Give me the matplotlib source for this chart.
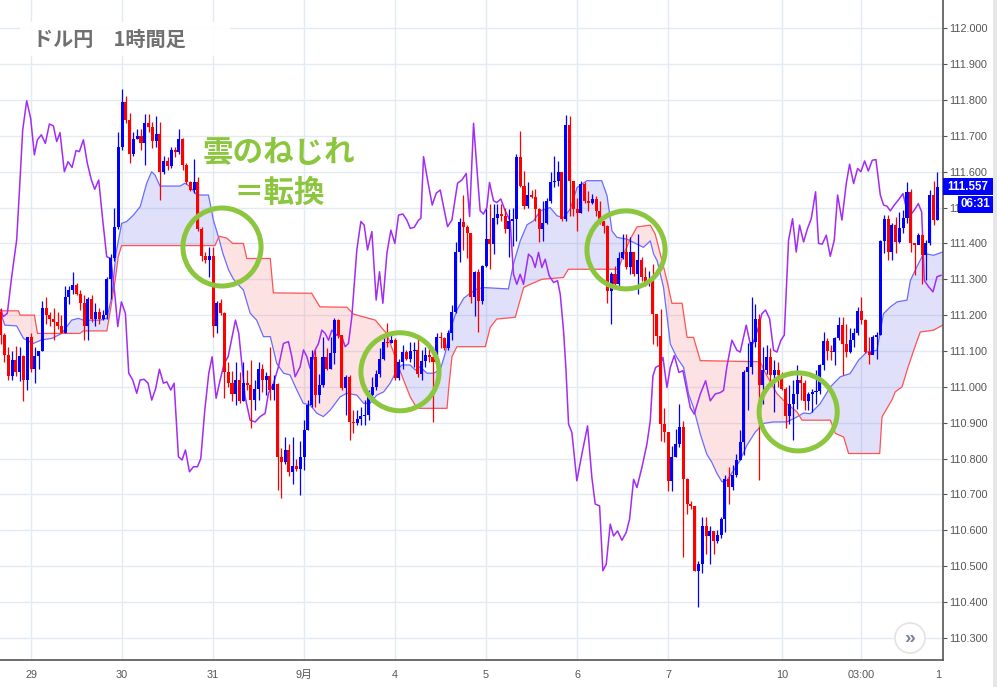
import numpy as np
import matplotlib
matplotlib.use('Agg')
import matplotlib.pyplot as plt
from matplotlib.patches import Ellipse, Rectangle, FancyBboxPatch

plt.rcParams['font.family'] = ['Liberation Sans', 'Noto Sans CJK JP']

# hourly candles (open = previous close)
first_open = 111.21
close = [
    111.145, 111.09, 111.03, 111.075, 111.04, 111.085, 111.02, 111.14, 111.05, 111.085,
    111.10, 111.22, 111.20, 111.19, 111.18, 111.17, 111.15, 111.25, 111.27, 111.285,
    111.26, 111.235, 111.17, 111.245, 111.19, 111.21, 111.19, 111.20, 111.30, 111.36,
    111.445, 111.67, 111.795, 111.745, 111.65, 111.69, 111.70, 111.68, 111.735, 111.725,
    111.685, 111.705, 111.60, 111.63, 111.615, 111.66, 111.655, 111.69, 111.62, 111.57,
    111.55, 111.57, 111.44, 111.365, 111.355, 111.365, 111.17, 111.235, 111.205, 111.04,
    111.01, 110.98, 111.02, 110.96, 111.01, 111.005, 110.963, 110.993, 111.05, 111.019,
    111.03, 110.991, 111.008, 110.805, 110.79, 110.823, 110.763, 110.779, 110.77, 110.805,
    110.879, 110.95, 111.084, 110.977, 111.005, 111.084, 111.05, 111.093, 111.186, 111.145,
    110.996, 111.028, 110.903, 110.898, 110.909, 110.918, 110.921, 110.977, 111.0, 111.037,
    111.079, 111.126, 111.121, 111.13, 111.024, 111.07, 111.098, 111.077, 111.101, 111.103,
    111.037, 111.073, 111.089, 111.084, 111.07, 111.14, 111.135, 111.107, 111.149, 111.21,
    111.377, 111.46, 111.447, 111.43, 111.25, 111.319, 111.24, 111.338, 111.412, 111.398,
    111.472, 111.482, 111.477, 111.44, 111.463, 111.468, 111.64, 111.561, 111.505, 111.535,
    111.53, 111.496, 111.44, 111.458, 111.519, 111.57, 111.575, 111.60, 111.468, 111.731,
    111.575, 111.496, 111.486, 111.567, 111.519, 111.514, 111.524, 111.491, 111.463, 111.449,
    111.268, 111.314, 111.286, 111.359, 111.375, 111.333, 111.375, 111.314, 111.353, 111.305,
    111.29, 111.296, 111.203, 111.142, 110.896, 110.873, 110.738, 110.803, 110.84, 110.887,
    110.742, 110.673, 110.668, 110.487, 110.505, 110.612, 110.584, 110.598, 110.57, 110.586,
    110.632, 110.744, 110.721, 110.753, 110.797, 110.846, 111.042, 111.056, 111.125, 111.188,
    111.004, 111.046, 111.082, 111.032, 111.046, 111.032, 110.995, 110.918, 110.951, 110.981,
    111.02, 111.011, 110.961, 110.979, 110.985, 110.989, 111.06, 111.127, 111.10, 111.097,
    111.135, 111.172, 111.119, 111.097, 111.13, 111.15, 111.211, 111.186, 111.097, 111.09,
    111.139, 111.144, 111.407, 111.468, 111.376, 111.451, 111.404, 111.442, 111.47, 111.544,
    111.40, 111.395, 111.423, 111.367, 111.40, 111.535, 111.465, 111.557]
high = [
    111.22, 111.15, 111.11, 111.10, 111.115, 111.11, 111.09, 111.14, 111.15, 111.11,
    111.10, 111.24, 111.25, 111.21, 111.22, 111.21, 111.20, 111.28, 111.28, 111.32,
    111.29, 111.27, 111.255, 111.25, 111.255, 111.235, 111.22, 111.215, 111.305, 111.37,
    111.50, 111.71, 111.83, 111.81, 111.765, 111.71, 111.72, 111.72, 111.76, 111.76,
    111.74, 111.755, 111.74, 111.645, 111.64, 111.67, 111.67, 111.72, 111.695, 111.625,
    111.575, 111.635, 111.585, 111.445, 111.375, 111.39, 111.39, 111.24, 111.245, 111.21,
    111.07, 111.045, 111.07, 111.04, 111.07, 111.047, 111.075, 111.02, 111.07, 111.065,
    111.042, 111.112, 111.033, 111.01, 110.83, 110.861, 110.84, 110.861, 110.80, 110.85,
    110.908, 110.963, 111.103, 111.103, 111.037, 111.14, 111.107, 111.14, 111.191, 111.19,
    111.145, 111.033, 111.033, 110.935, 110.935, 110.944, 110.963, 110.991, 111.028, 111.047,
    111.107, 111.144, 111.177, 111.154, 111.135, 111.079, 111.117, 111.103, 111.126, 111.126,
    111.135, 111.103, 111.112, 111.107, 111.112, 111.149, 111.154, 111.14, 111.158, 111.228,
    111.405, 111.47, 111.535, 111.45, 111.43, 111.324, 111.328, 111.34, 111.496, 111.51,
    111.51, 111.51, 111.51, 111.50, 111.496, 111.50, 111.65, 111.714, 111.603, 111.57,
    111.548, 111.551, 111.50, 111.519, 111.528, 111.598, 111.645, 111.63, 111.60, 111.759,
    111.756, 111.575, 111.528, 111.575, 111.57, 111.547, 111.538, 111.533, 111.519, 111.463,
    111.452, 111.319, 111.338, 111.375, 111.426, 111.426, 111.417, 111.375, 111.426, 111.361,
    111.333, 111.324, 111.342, 111.2, 111.217, 110.942, 110.873, 110.835, 110.882, 110.952,
    110.905, 110.747, 110.682, 110.668, 110.515, 110.636, 110.636, 110.612, 110.598, 110.60,
    110.637, 110.753, 110.777, 110.781, 110.814, 110.879, 111.046, 111.121, 111.251, 111.232,
    111.204, 111.111, 111.116, 111.107, 111.074, 111.07, 111.04, 111.0, 111.004, 111.018,
    111.06, 111.032, 111.02, 110.986, 110.995, 111.046, 111.065, 111.153, 111.135, 111.116,
    111.139, 111.195, 111.195, 111.176, 111.163, 111.163, 111.223, 111.251, 111.19, 111.139,
    111.144, 111.153, 111.409, 111.479, 111.479, 111.456, 111.474, 111.488, 111.493, 111.572,
    111.553, 111.40, 111.43, 111.427, 111.409, 111.549, 111.575, 111.60]
low = [
    111.12, 111.07, 111.02, 111.02, 111.03, 111.015, 110.96, 110.99, 111.04, 111.01,
    111.05, 111.10, 111.175, 111.17, 111.13, 111.16, 111.15, 111.15, 111.23, 111.26,
    111.255, 111.215, 111.13, 111.13, 111.18, 111.17, 111.175, 111.185, 111.19, 111.245,
    111.35, 111.44, 111.66, 111.735, 111.625, 111.645, 111.69, 111.66, 111.62, 111.71,
    111.665, 111.67, 111.52, 111.595, 111.605, 111.61, 111.64, 111.65, 111.605, 111.565,
    111.545, 111.54, 111.435, 111.35, 111.345, 111.305, 111.14, 111.15, 111.20, 110.97,
    111.00, 110.96, 110.95, 110.955, 110.96, 110.99, 110.884, 110.935, 110.963, 110.986,
    110.977, 110.963, 110.963, 110.712, 110.69, 110.786, 110.75, 110.73, 110.765, 110.698,
    110.768, 110.879, 110.945, 110.945, 110.954, 111.0, 111.047, 111.05, 111.065, 111.135,
    110.991, 110.921, 110.851, 110.87, 110.893, 110.893, 110.893, 110.907, 110.958, 110.991,
    111.028, 111.075, 111.112, 111.121, 111.019, 111.019, 111.051, 111.075, 111.07, 111.056,
    111.028, 111.019, 111.056, 111.07, 110.903, 111.009, 111.107, 111.103, 111.103, 111.131,
    111.205, 111.349, 111.382, 111.36, 111.233, 111.198, 111.152, 111.232, 111.333, 111.328,
    111.37, 111.454, 111.463, 111.43, 111.361, 111.393, 111.407, 111.556, 111.496, 111.50,
    111.528, 111.463, 111.403, 111.407, 111.454, 111.514, 111.556, 111.561, 111.463, 111.463,
    111.477, 111.477, 111.435, 111.486, 111.514, 111.49, 111.51, 111.477, 111.454, 111.43,
    111.235, 111.175, 111.282, 111.282, 111.356, 111.328, 111.314, 111.31, 111.259, 111.296,
    111.28, 111.282, 111.119, 111.114, 110.849, 110.845, 110.71, 110.71, 110.803, 110.831,
    110.524, 110.645, 110.659, 110.487, 110.385, 110.482, 110.533, 110.505, 110.533, 110.565,
    110.577, 110.595, 110.674, 110.712, 110.749, 110.795, 110.809, 110.935, 111.037, 111.111,
    110.739, 110.953, 111.037, 111.004, 110.93, 111.0, 110.99, 110.884, 110.897, 110.851,
    110.939, 110.963, 110.935, 110.935, 110.93, 110.953, 110.981, 111.046, 111.074, 111.074,
    111.06, 111.13, 111.032, 111.084, 111.093, 111.111, 111.144, 111.176, 111.093, 111.065,
    111.093, 111.079, 111.144, 111.372, 111.353, 111.353, 111.372, 111.40, 111.428, 111.456,
    111.376, 111.311, 111.40, 111.288, 111.297, 111.395, 111.451, 111.465]

# ichimoku cloud: leading span A (blue) and span B (red), sampled by candle number
span_a_x = [0, 1.1, 4.2, 6.0, 8.6, 10.8, 13.5, 16.1, 18.7, 20.5, 21.8, 26.2, 28.0, 29.3, 30.4,
            31.9, 33.2, 35.0, 36.8, 38.5, 39.8, 40.7, 42.0, 47.3, 48.6, 50.0, 51.7, 54.8, 56.1,
            57.4, 58.6, 60.1, 61.4, 63.1, 64.0, 65.8, 67.5, 69.3, 71.1, 72.8, 74.6, 76.3, 78.1,
            79.8, 81.6, 83.4, 85.1, 86.9, 89.5, 91.3, 93.9, 95.7, 97.4, 99.2, 101.0, 102.7,
            104.5, 105.8, 108.0, 109.3, 110.6, 112.4, 114.1, 115.9, 117.2, 118.5, 120.3, 122.1,
            123.8, 125.6, 127.3, 133.9, 135.2, 137.0, 138.8, 140.5, 142.3, 144.9, 146.7, 148.4,
            150.2, 152.0, 154.6, 158.5, 159.9, 161.2, 162.5, 165.1, 167.8, 169.5, 171.3, 172.2,
            173.1, 174.8, 176.6, 178.3, 180.1, 181.4, 182.7, 184.5, 186.2, 187.5, 188.9, 190.2,
            191.5, 193.3, 195.0, 196.8, 199.0, 201.2, 203.8, 207.3, 210.0, 211.7, 213.5, 216.1,
            218.8, 221.4, 224.0, 226.2, 228.4, 231.1, 232.8, 234.6, 236.4, 239.0, 239.9, 241.6,
            243.4, 246.0, 248.4]
span_a = [111.205, 111.172, 111.17, 111.135, 111.121, 111.131, 111.135, 111.149, 111.186, 111.191,
          111.186, 111.186, 111.191, 111.251, 111.372, 111.456, 111.461, 111.479, 111.503, 111.568,
          111.60, 111.591, 111.56, 111.56, 111.568, 111.558, 111.535, 111.535, 111.465, 111.419,
          111.372, 111.326, 111.30, 111.28, 111.27, 111.205, 111.186, 111.14, 111.14, 111.065,
          111.038, 111.033, 110.991, 110.954, 110.949, 110.926, 110.917, 110.935, 110.972, 110.982,
          110.977, 110.954, 110.954, 110.977, 110.986, 111.01, 111.047, 111.061, 111.061, 111.047,
          111.056, 111.038, 111.038, 111.047, 111.093, 111.158, 111.214, 111.247, 111.261, 111.273,
          111.277, 111.273, 111.342, 111.407, 111.452, 111.463, 111.491, 111.50, 111.477, 111.472,
          111.496, 111.556, 111.575, 111.575, 111.533, 111.435, 111.417, 111.412, 111.398, 111.389,
          111.407, 111.37, 111.352, 111.277, 111.119, 111.082, 111.054, 110.98, 110.942, 110.868,
          110.812, 110.79, 110.758, 110.735, 110.739, 110.767, 110.795, 110.837, 110.874, 110.898,
          110.902, 110.902, 110.916, 110.927, 110.925, 110.953, 111.0, 111.028, 111.037, 111.074,
          111.097, 111.102, 111.204, 111.223, 111.237, 111.242, 111.297, 111.335, 111.372, 111.367,
          111.376]
span_b_x = [0, 4.7, 5.1, 8.9, 9.7, 20.9, 21.8, 28.0, 28.8, 30.2, 31.0, 31.9, 56.5, 57.6, 59.6,
            61.2, 64.0, 64.9, 71.1, 71.9, 82.0, 84.2, 91.3, 93.0, 98.8, 101.0, 101.8, 105.4,
            108.0, 109.8, 117.7, 118.1, 119.0, 120.3, 127.8, 129.1, 130.8, 135.7, 137.9, 138.8,
            142.7, 148.4, 149.7, 162.9, 164.3, 166.0, 167.8, 171.3, 172.6, 174.4, 175.7, 177.0,
            179.7, 181.0, 182.7, 184.5, 200.3, 201.6, 204.7, 207.3, 210.0, 211.3, 218.8, 220.1,
            222.3, 223.6, 231.8, 232.4, 235.0, 235.9, 237.7, 239.0, 240.7, 242.5, 246.0, 248.4]
span_b = [111.212, 111.212, 111.20, 111.20, 111.149, 111.149, 111.156, 111.156, 111.205, 111.298,
          111.363, 111.394, 111.394, 111.42, 111.415, 111.40, 111.40, 111.358, 111.358, 111.262,
          111.261, 111.223, 111.222, 111.203, 111.186, 111.158, 111.149, 111.042, 110.972, 110.94,
          110.94, 110.991, 111.084, 111.112, 111.112, 111.166, 111.189, 111.194, 111.277, 111.282,
          111.30, 111.305, 111.328, 111.328, 111.37, 111.412, 111.446, 111.451, 111.426, 111.352,
          111.296, 111.233, 111.233, 111.138, 111.138, 111.073, 111.07, 111.04, 110.981, 110.953,
          110.93, 110.907, 110.907, 110.87, 110.86, 110.814, 110.814, 110.916, 110.963, 110.986,
          111.0, 111.046, 111.10, 111.153, 111.158, 111.172]

# purple line
lag_x = [0, 0.70, 1.75, 2.90, 4.22, 5.10, 5.80, 6.86, 7.91, 8.88, 9.67, 10.73, 11.78, 12.84,
         13.89, 14.77, 15.65, 16.79, 17.76, 18.82, 19.87, 20.75, 21.81, 22.86, 23.92, 24.80,
         25.85, 26.91, 27.96, 29.02, 30.07, 30.87, 31.83, 32.89, 33.77, 34.82, 35.88, 36.76,
         37.81, 38.87, 39.84, 40.89, 41.86, 42.92, 43.80, 44.85, 45.73, 46.87, 47.84, 48.72,
         49.78, 50.83, 51.89, 52.77, 53.82, 54.88, 55.76, 56.81, 57.87, 58.92, 59.98, 60.86,
         61.91, 62.79,
         64.46, 65.78, 67.10, 68.42, 69.73, 70.61, 71.93, 73.25, 74.57, 75.89, 76.77, 77.65,
         78.97, 79.85, 80.73, 81.61, 82.93, 83.81, 84.69, 85.57, 86.45, 87.32, 88.64, 89.96,
         90.84, 91.72, 92.60, 93.92, 94.98, 95.86, 96.74, 97.88, 99.02, 99.90, 100.78, 101.84,
         102.89, 103.95, 104.92, 106.06, 107.11, 107.99, 109.05, 110.19, 110.81, 111.51, 112.57,
         113.80, 114.85, 115.91, 116.96, 117.84, 118.99, 120.48, 121.63, 122.77, 123.65, 124.70,
         125.56, 126.44, 127.32, 128.20, 128.90, 129.96, 130.84, 131.89, 133.03, 134.35, 135.23,
         136.11, 136.99, 137.87, 139.19, 140.07, 140.95, 141.83, 142.71, 143.59, 144.64, 145.79,
         146.84, 147.55, 148.43, 149.04, 149.75, 150.62, 151.94, 153.26, 154.76, 155.90, 156.78,
         157.93, 158.80, 159.68, 160.74, 161.62, 162.67, 163.82, 164.96, 165.84, 166.90, 167.78,
         169.09, 170.41, 171.29, 172.00, 172.70, 173.76, 174.64, 175.69, 176.57, 177.63, 178.86,
         179.91, 180.97, 181.85, 182.90, 184.49, 185.89, 187.12, 188.44, 189.76, 190.62, 191.50,
         192.82, 194.14, 195.02, 196.60, 197.83, 198.71, 199.85, 200.73, 201.70, 202.76, 203.81,
         204.69, 205.75, 206.63, 207.77, 208.82, 209.79, 210.67, 211.73, 212.78, 213.75, 214.89,
         215.68, 216.65, 217.71, 218.76, 219.82, 220.70, 221.84, 222.98, 223.86, 224.92, 225.97,
         226.85, 227.82, 228.79, 229.84, 230.81, 231.96, 232.83, 233.71, 234.59, 235.65, 236.79,
         237.94, 238.99, 239.87, 240.93, 241.98, 242.86, 243.56, 244.71, 245.85, 246.91, 247.96]
lag = [111.214, 111.196, 111.205, 111.307, 111.41, 111.577, 111.716, 111.798, 111.749, 111.647,
       111.689, 111.703, 111.679, 111.733, 111.728, 111.684, 111.709, 111.60, 111.628, 111.612,
       111.659, 111.656, 111.689, 111.623, 111.577, 111.551, 111.577, 111.465, 111.363, 111.358,
       111.261, 111.168, 111.237, 111.205, 111.038, 111.019, 110.982, 111.019, 111.021, 111.01,
       110.963, 110.996, 111.049, 111.01, 111.014, 110.991, 111.01, 110.805, 110.796, 110.824,
       110.763, 110.777, 110.777, 110.80, 110.935, 111.038, 111.084, 110.968, 111.019, 111.065,
       111.084, 111.131, 111.186, 111.149,
       110.972, 110.907, 110.902, 110.917, 110.926, 110.982, 111.009, 111.056, 111.121, 111.126,
       111.084, 111.028, 111.056, 111.103, 111.084, 111.051, 111.103, 111.121, 111.158, 111.149,
       111.13, 111.158, 111.144, 111.14, 111.112, 111.121, 111.196, 111.382, 111.461, 111.451,
       111.382, 111.433, 111.242, 111.321, 111.233, 111.372, 111.437, 111.40, 111.479, 111.482,
       111.465, 111.442, 111.445, 111.465, 111.47, 111.642, 111.577, 111.507, 111.54, 111.549,
       111.493, 111.447, 111.465, 111.568, 111.577, 111.595, 111.475, 111.735,
       111.612, 111.491, 111.482, 111.50, 111.57, 111.519, 111.514, 111.524, 111.491, 111.463,
       111.314, 111.286, 111.314, 111.286, 111.37, 111.361, 111.333, 111.375, 111.333, 111.356,
       111.31, 111.291, 111.296, 111.259, 111.156, 111.054, 110.896, 110.873, 110.738, 110.812,
       110.891, 110.747, 110.673, 110.668, 110.487, 110.505, 110.617, 110.584, 110.598, 110.572,
       110.594, 110.631, 110.742, 110.719, 110.775, 110.84, 110.905, 111.03, 111.054, 111.06,
       111.082, 110.998, 111.054, 111.087, 111.04, 111.045, 110.989, 110.942, 110.924, 110.98,
       111.017, 110.961, 110.98, 110.984, 110.99, 111.056, 111.13, 111.102, 111.097, 111.172,
       111.111, 111.13, 111.167, 111.204, 111.214, 111.19, 111.102, 111.097, 111.13, 111.144,
       111.409, 111.469, 111.376, 111.451, 111.404, 111.442, 111.469, 111.544, 111.40, 111.398,
       111.423, 111.364, 111.409, 111.535, 111.465, 111.567, 111.621, 111.567, 111.609, 111.60,
       111.63, 111.602, 111.632, 111.634, 111.535, 111.507, 111.504, 111.491, 111.507, 111.522,
       111.539, 111.491, 111.479, 111.493, 111.511, 111.488, 111.297, 111.279, 111.265, 111.307,
       111.311]

day_ticks = [8, 32, 56, 80, 104, 128, 152, 176, 206, 227, 247.2]
day_labels = ['29', '30', '31', '9月', '4', '5', '6', '7', '10', '03:00', '1']
price_ticks = [110.3, 110.4, 110.5, 110.6, 110.7, 110.8, 110.9, 111.0, 111.1, 111.2,
               111.3, 111.4, 111.5, 111.6, 111.7, 111.8, 111.9, 112.0]

assert len(close) == len(high) == len(low)
assert len(span_a_x) == len(span_a) and len(span_b_x) == len(span_b)
assert len(lag_x) == len(lag)

W, H = 997, 687
fig = plt.figure(figsize=(W / 100, H / 100), dpi=100)
ax = fig.add_axes([0, 27 / H, 942.5 / W, 660 / H])


def fig_box(x0, y0, x1, y1):
    # pixel box (top-left origin) -> figure fraction
    return x0 / W, 1 - y1 / H, (x1 - x0) / W, (y1 - y0) / H


# cloud
grid = np.linspace(0, 248.4, 3000)
ga = np.interp(grid, span_a_x, span_a)
gb = np.interp(grid, span_b_x, span_b)
ax.fill_between(grid, ga, gb, where=ga >= gb, interpolate=True,
                color='#6464e6', alpha=0.2, lw=0, zorder=1)
ax.fill_between(grid, ga, gb, where=ga < gb, interpolate=True,
                color='#f7707a', alpha=0.2, lw=0, zorder=1)
ax.plot(span_a_x, span_a, color='#6b6bff', lw=0.9, zorder=2)
ax.plot(span_b_x, span_b, color='#ff5252', lw=0.9, zorder=2)

ax.plot(lag_x, lag, color='#a22cf5', lw=1.1, zorder=3)

# candles
x = np.arange(len(close))
c = np.array(close)
o = np.concatenate([[first_open], c[:-1]])
cols = np.where(c >= o, '#0000ff', '#ff0000')
ax.vlines(x, low, high, colors=cols, lw=0.9, zorder=4)
ax.bar(x, np.maximum(np.abs(c - o), 0.003), bottom=np.minimum(o, c), width=0.8,
       color=cols, lw=0, zorder=5)

# annotations
green = '#8cc63f'
for cx, cy in [(58.36, 111.39), (105.3, 111.042), (164.9, 111.382), (210.3, 110.93)]:
    ax.add_patch(Ellipse((cx, cy), 20.6, 0.2176, fill=False, ec=green, lw=3.6, zorder=8))
ax.text(73.4, 111.652, '雲のねじれ', ha='center', va='center', color=green, fontsize=22,
        fontweight='bold', family=['Noto Sans CJK JP'], zorder=9)
ax.text(73.4, 111.54, '＝転換', ha='center', va='center', color=green, fontsize=22,
        fontweight='bold', family=['Noto Sans CJK JP'], zorder=9)

# axes styling
ax.set_xlim(-0.18, 248.36)
ax.set_ylim(110.238, 112.079)
ax.set_xticks(day_ticks)
ax.set_xticklabels(day_labels)
ax.set_yticks(price_ticks)
ax.set_yticklabels(['%.3f' % p for p in price_ticks])
ax.yaxis.tick_right()
ax.grid(color='#e2eaf2', lw=1.0, zorder=0)
ax.get_xgridlines()[-1].set_visible(False)
ax.set_axisbelow(True)
for s in ['top', 'left']:
    ax.spines[s].set_visible(False)
for s in ['right', 'bottom']:
    ax.spines[s].set_color('#555555')
    ax.spines[s].set_linewidth(1.2)
ax.tick_params(axis='y', length=3, color='#555555', labelsize=7.8, labelcolor='#555555', pad=2)
ax.tick_params(axis='x', length=0, labelsize=7.8, labelcolor='#555555', pad=7)

# title box
bx = fig_box(20, 22, 230, 56)
fig.patches.append(FancyBboxPatch((bx[0], bx[1]), bx[2], bx[3], boxstyle='round,pad=0,rounding_size=0.004',
                                  transform=fig.transFigure, fc='white', ec='none', alpha=0.92))
fig.text(33 / W, 1 - 39 / H, 'ドル円　1時間足', ha='left', va='center', fontsize=14.5,
         fontweight='bold', color='#707070', family=['Noto Sans CJK JP'])

# last price labels (the time box sits over the 111.500 label, as on the source chart)
bx = fig_box(943, 178, 993, 195)
fig.patches.append(Rectangle((bx[0], bx[1]), bx[2], bx[3], transform=fig.transFigure,
                             fc='#0000ff', ec='none'))
fig.text(968 / W, 1 - 186.5 / H, '111.557', ha='center', va='center', fontsize=8.3,
         color='white', fontweight='bold')
bx = fig_box(958, 196, 993, 213)
fig.patches.append(Rectangle((bx[0], bx[1]), bx[2], bx[3], transform=fig.transFigure,
                             fc='#0000ff', ec='none'))
fig.text(975.5 / W, 1 - 204.5 / H, '06:31', ha='center', va='center', fontsize=8.3,
         color='white', fontweight='bold')

# right strip and scroll button
bx = fig_box(993, 0, 997, 687)
fig.patches.append(Rectangle((bx[0], bx[1]), bx[2], bx[3], transform=fig.transFigure,
                             fc='#e6e6e6', ec='none'))
fig.patches.append(Ellipse((910 / W, 1 - 638 / H), 30 / W, 30 / H, transform=fig.transFigure,
                           fc='white', ec='#e3e3e3', lw=1.2))
fig.text(910 / W, 1 - 639 / H, '»', ha='center', va='center', fontsize=14,
         fontweight='bold', color='#7a8499')

fig.savefig('out.png', dpi=100)
